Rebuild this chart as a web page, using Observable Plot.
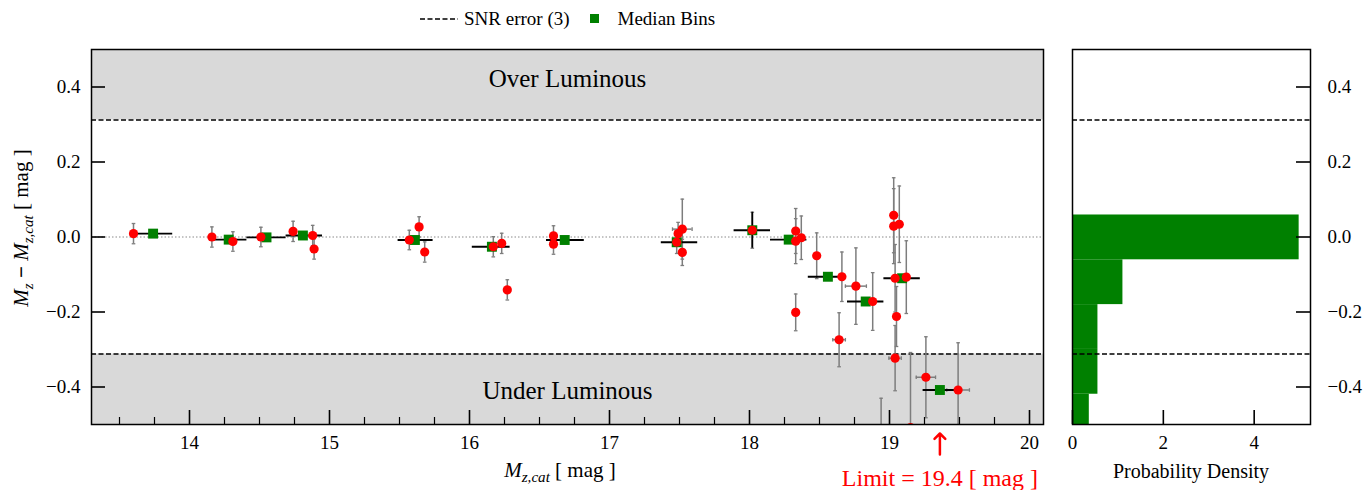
<!DOCTYPE html>
<html>
<head>
<meta charset="utf-8">
<script src="https://cdn.jsdelivr.net/npm/d3@7"></script>
<script src="https://cdn.jsdelivr.net/npm/@observablehq/plot@0.6"></script>
<style>
  html, body { margin: 0; padding: 0; background: #fff; }
  #wrap { position: relative; width: 1366px; height: 490px; background: #fff; font-family: "Liberation Serif", "DejaVu Serif", serif; color: #000; overflow: hidden; }
  .abs { position: absolute; white-space: nowrap; line-height: 1; font-family: "Liberation Serif", "DejaVu Serif", serif; }
  .sub { font-size: 0.72em; position: relative; top: 0.3em; }
  svg text { font-family: "Liberation Serif", "DejaVu Serif", serif !important; }
</style>
</head>
<body>
<div id="wrap">
  <div id="main" class="abs" style="left:0;top:0"></div>
  <div id="hist" class="abs" style="left:1060px;top:0"></div>
  <div id="legend" class="abs" style="left:419px;top:9px;font-size:19px;display:flex;align-items:center"></div>
  <div id="xtitle" class="abs" style="left:560px;top:470px;font-size:21px;transform:translate(-50%,-50%)"></div>
  <div id="ytitle" class="abs" style="left:21px;top:228px;font-size:21px;transform:translate(-50%,-50%) rotate(-90deg)"></div>
  <div id="htitle" class="abs" style="left:1191px;top:471px;font-size:20px;transform:translate(-50%,-50%)"></div>
</div>
<script>
// ---------------- data ----------------
const xDomain = [13.3, 20.1];
const yDomain = [-0.5, 0.5];
const snrLimit = 0.312;
const limitX = 19.36;
const limitLabel = "Limit = 19.4 [ mag ]";
const overLabel = "Over Luminous";
const underLabel = "Under Luminous";
const legendLineLabel = "SNR error (3)";
const legendBinLabel = "Median Bins";
const xTitleHTML = "<i>M</i><span class='sub'><i>z,cat</i></span> [ mag ]";
const yTitleHTML = "<i>M</i><span class='sub'><i>z</i></span> <b>−</b> <i>M</i><span class='sub'><i>z,cat</i></span> [ mag ]";
const histTitle = "Probability Density";

const xTicks = [14, 15, 16, 17, 18, 19, 20];
const xMinorTicks = [13.5, 13.75, 14.25, 14.5, 14.75, 15.25, 15.5, 15.75, 16.25, 16.5, 16.75,
                     17.25, 17.5, 17.75, 18.25, 18.5, 18.75, 19.25, 19.5, 19.75];
const yTicks = [-0.4, -0.2, 0, 0.2, 0.4];
const histTicks = [0, 2, 4];
const histXDomain = [0, 5.24];

// individual objects (red points)
const pointX    = [13.60, 14.16, 14.31, 14.51, 14.74, 14.88, 14.89, 15.57, 15.64, 15.68,
                   16.17, 16.23, 16.27, 16.60, 16.60, 17.52, 17.49, 17.48, 17.52, 18.02,
                   18.33, 18.33, 18.37, 18.48, 18.33, 18.66, 18.76, 18.64, 18.88, 19.03,
                   19.03, 19.07, 19.04, 19.05, 19.04, 19.12, 18.94, 19.15, 19.26, 19.49];
const pointY    = [0.009, 0.000, -0.012, 0.000, 0.015, 0.004, -0.032, -0.008, 0.027, -0.040,
                   -0.026, -0.017, -0.141, 0.003, -0.019, 0.021, 0.009, -0.014, -0.041, 0.018,
                   0.016, -0.011, -0.002, -0.050, -0.201, -0.106, -0.131, -0.274, -0.172, 0.058,
                   0.029, 0.034, -0.110, -0.212, -0.323, -0.107, -0.620, -0.508, -0.374, -0.408];
const pointYErr = [0.027, 0.027, 0.026, 0.026, 0.027, 0.027, 0.027, 0.026, 0.027, 0.027,
                   0.027, 0.027, 0.027, 0.027, 0.027, 0.080, 0.030, 0.030, 0.035, 0.048,
                   0.060, 0.060, 0.058, 0.061, 0.049, 0.066, 0.102, 0.072, 0.077, 0.100,
                   0.100, 0.102, 0.090, 0.080, 0.087, 0.097, 0.190, 0.200, 0.108, 0.126];
const pointXErr = [0, 0, 0, 0, 0, 0, 0, 0, 0, 0,
                   0, 0, 0, 0, 0, 0.07, 0, 0, 0, 0,
                   0, 0, 0, 0, 0, 0, 0.075, 0.045, 0, 0,
                   0, 0, 0, 0, 0.044, 0, 0, 0, 0.069, 0.081];

// median bins (green squares)
const binX    = [13.74, 14.28, 14.55, 14.81, 15.61, 16.16, 16.68, 17.48, 18.02, 18.28, 18.56, 18.83, 19.09, 19.36];
const binY    = [0.009, -0.007, -0.001, 0.004, -0.008, -0.026, -0.008, -0.014, 0.018, -0.007, -0.106, -0.172, -0.110, -0.408];
const binXLo  = [13.61, 14.16, 14.41, 14.69, 15.49, 16.02, 16.55, 17.37, 17.89, 18.15, 18.42, 18.70, 18.96, 19.24];
const binXHi  = [13.88, 14.41, 14.69, 14.95, 15.74, 16.29, 16.82, 17.63, 18.15, 18.41, 18.68, 18.96, 19.22, 19.50];
const binYErr = [0, 0, 0, 0, 0, 0, 0, 0, 0.048, 0, 0, 0, 0, 0];

// histogram (horizontal, density)
const histEdges   = [0.0587, -0.0608, -0.1803, -0.2998, -0.4193, -0.5388];
const histDensity = [4.99, 1.11, 0.56, 0.56, 0.37];

// ---------------- build ----------------
const fmt = d3.format(".1f");
const fmtInt = d3.format("d");
const H = 490, mT = 49, mB = 66;
const frameH = H - mT - mB;
const W1 = 1060, mL1 = 91, mR1 = 17;
const frameW1 = W1 - mL1 - mR1;
const W2 = 306, mL2 = 12, mR2 = 56;
const frameW2 = W2 - mL2 - mR2;

const points = pointX.map((x, i) => ({x, y: pointY[i], ey: pointYErr[i], ex: pointXErr[i]}));
const bins = binX.map((x, i) => ({x, y: binY[i], lo: binXLo[i], hi: binXHi[i], ey: binYErr[i]}));
const histRows = histDensity.map((d, i) => ({d, hi: histEdges[i], lo: histEdges[i + 1]}));
const bands = [{y1: snrLimit, y2: yDomain[1]}, {y1: yDomain[0], y2: -snrLimit}];

const capH = {draw(ctx, size) { const w = Math.sqrt(size / Math.PI); ctx.moveTo(-w, 0); ctx.lineTo(w, 0); }};
const capV = {draw(ctx, size) { const w = Math.sqrt(size / Math.PI); ctx.moveTo(0, -w); ctx.lineTo(0, w); }};
const yCaps = points.flatMap(d => [{x: d.x, y: d.y - d.ey}, {x: d.x, y: d.y + d.ey}]);
const xErrPts = points.filter(d => d.ex > 0);
const xCaps = xErrPts.flatMap(d => [{x: d.x - d.ex, y: d.y}, {x: d.x + d.ex, y: d.y}]);
const binsY = bins.filter(d => d.ey > 0);

const errColor = "#7d7d7d";
const font = "Liberation Serif";

const main = Plot.plot({
  width: W1, height: H,
  marginTop: mT, marginBottom: mB, marginLeft: mL1, marginRight: mR1,
  style: {fontFamily: font, fontSize: "19px", color: "black", background: "white", overflow: "visible"},
  x: {domain: xDomain},
  y: {domain: yDomain},
  marks: [
    Plot.rect(bands, {y1: "y1", y2: "y2", fill: "#d9d9d9"}),
    Plot.ruleY([0], {stroke: "#8a8a8a", strokeDasharray: "1.5,2", strokeWidth: 1}),
    Plot.ruleY([snrLimit, -snrLimit], {stroke: "black", strokeDasharray: "5,2.5", strokeWidth: 1.3}),
    Plot.text([overLabel], {frameAnchor: "top", dy: 29, lineAnchor: "middle", fontSize: 25, fontFamily: font}),
    Plot.text([underLabel], {frameAnchor: "bottom", dy: -34, lineAnchor: "middle", fontSize: 25, fontFamily: font}),
    Plot.ruleX(points, {x: "x", y1: d => d.y - d.ey, y2: d => d.y + d.ey, stroke: errColor, strokeWidth: 1.5, clip: true}),
    Plot.ruleY(xErrPts, {y: "y", x1: d => d.x - d.ex, x2: d => d.x + d.ex, stroke: errColor, strokeWidth: 1.5, clip: true}),
    Plot.dot(yCaps, {x: "x", y: "y", symbol: capH, r: 1.8, fill: "none", stroke: errColor, strokeWidth: 1.3, clip: true}),
    Plot.dot(xCaps, {x: "x", y: "y", symbol: capV, r: 1.8, fill: "none", stroke: errColor, strokeWidth: 1.3, clip: true}),
    Plot.ruleY(bins, {y: "y", x1: "lo", x2: "hi", stroke: "black", strokeWidth: 1.8}),
    Plot.ruleX(binsY, {x: "x", y1: d => d.y - d.ey, y2: d => d.y + d.ey, stroke: "black", strokeWidth: 1.8}),
    Plot.dot(bins, {x: "x", y: "y", symbol: "square", r: 5.6, fill: "green"}),
    Plot.dot(points, {x: "x", y: "y", r: 4.6, fill: "red", clip: true}),
    Plot.vector([limitX], {x: d => d, frameAnchor: "bottom", dy: 9, length: 21, anchor: "end", stroke: "red", strokeWidth: 2.5, r: 4.5}),
    Plot.text([{x: limitX, label: limitLabel}], {x: "x", text: "label", frameAnchor: "bottom", dy: 54, lineAnchor: "middle", fill: "red", fontSize: 24, fontFamily: font}),
    Plot.frame({stroke: "black", strokeWidth: 1.5}),
    Plot.tickX(xTicks, {x: d => d, insetTop: frameH - 14, stroke: "black", strokeWidth: 1.6}),
    Plot.tickX(xMinorTicks, {x: d => d, insetTop: frameH - 7, stroke: "black", strokeWidth: 1.2}),
    Plot.tickY(yTicks, {y: d => d, insetRight: frameW1 - 14, stroke: "black", strokeWidth: 1.6}),
    Plot.axisX({ticks: xTicks, tickSize: 0, tickPadding: 11, tickFormat: fmtInt, label: null, fontSize: 19, fontFamily: font}),
    Plot.axisY({ticks: yTicks, tickSize: 0, tickPadding: 11, tickFormat: fmt, label: null, fontSize: 19, fontFamily: font})
  ]
});
document.getElementById("main").append(main);

const hist = Plot.plot({
  width: W2, height: H,
  marginTop: mT, marginBottom: mB, marginLeft: mL2, marginRight: mR2,
  style: {fontFamily: font, fontSize: "19px", color: "black", background: "white", overflow: "visible"},
  x: {domain: histXDomain},
  y: {domain: yDomain},
  marks: [
    Plot.rect(histRows, {x1: 0, x2: "d", y1: "lo", y2: "hi", fill: "green", clip: true}),
    Plot.ruleY([snrLimit, -snrLimit], {stroke: "black", strokeDasharray: "5,2.5", strokeWidth: 1.3}),
    Plot.frame({stroke: "black", strokeWidth: 1.5}),
    Plot.tickX(histTicks, {x: d => d, insetTop: frameH - 14, stroke: "black", strokeWidth: 1.6}),
    Plot.tickY(yTicks, {y: d => d, insetLeft: frameW2 - 14, stroke: "black", strokeWidth: 1.6}),
    Plot.axisX({ticks: histTicks, tickSize: 0, tickPadding: 11, tickFormat: fmtInt, label: null, fontSize: 19, fontFamily: font}),
    Plot.axisY({anchor: "right", ticks: yTicks, tickSize: 0, tickPadding: 17, tickFormat: fmt, label: null, fontSize: 19, fontFamily: font})
  ]
});
document.getElementById("hist").append(hist);

// legend and titles (real text)
const legend = document.getElementById("legend");
legend.innerHTML =
  `<svg width="40" height="6" style="display:block"><line x1="1" x2="39" y1="3" y2="3" stroke="black" stroke-width="1.3" stroke-dasharray="5,2.5"/></svg>` +
  `<span style="margin-left:5px">${legendLineLabel}</span>` +
  `<span style="display:inline-block;width:9px;height:9px;background:green;margin-left:20px"></span>` +
  `<span style="margin-left:19px">${legendBinLabel}</span>`;
document.getElementById("xtitle").innerHTML = xTitleHTML;
document.getElementById("ytitle").innerHTML = yTitleHTML;
document.getElementById("htitle").textContent = histTitle;
</script>
</body>
</html>
